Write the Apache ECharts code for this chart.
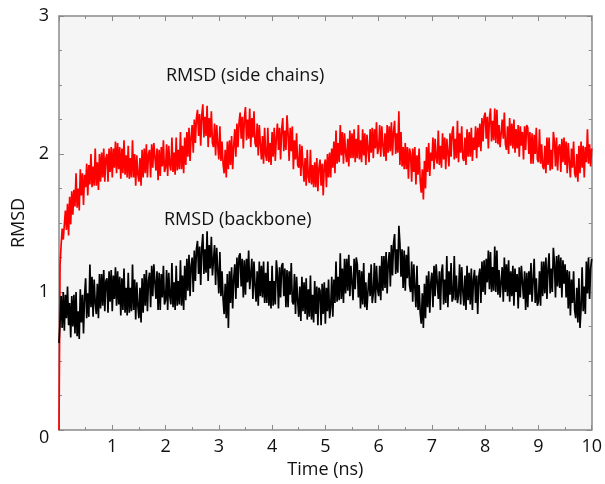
<!DOCTYPE html>
<html>
<head>
<meta charset="utf-8">
<script src="https://cdn.jsdelivr.net/npm/echarts@6/dist/echarts.min.js"></script>
<style>
html,body{margin:0;padding:0;background:#fff;}
#chart{width:605px;height:484px;}
</style>
</head>
<body>
<div id="chart"></div>
<script>
// Sampling step of the trajectory (ns)
const timeStep = 0.02;
const xTicks = [0,1,2,3,4,5,6,7,8,9,10];
const yTicks = [0,1,2,3];

// RMSD (side chains) (one row per ns)
const sideChains = [
0.00,1.20,1.34,1.46,1.38, 1.38,1.59,1.45,1.64,1.41, 1.69,1.49,1.73,1.56,1.74, 1.62,1.86,1.61,1.75,1.59, 1.89,1.70,1.86,1.63,1.85, 1.76,1.93,1.70,1.92,1.78, 2.00,1.76,1.91,1.77,2.04, 1.77,1.94,1.74,2.00,1.80, 2.01,1.83,2.04,1.80,1.97, 2.00,1.80,2.04,1.87,2.05,
1.83,2.04,1.90,2.09,1.86, 2.08,1.89,2.05,1.82,2.04, 1.86,2.10,1.85,1.99,1.83, 2.06,1.82,1.97,1.83,2.10, 1.83,2.00,1.77,1.99,1.85, 1.80,1.97,1.77,2.03,1.83, 2.04,1.86,2.07,1.83,2.00, 2.03,1.83,2.07,1.90,2.08, 2.07,1.88,2.04,1.81,2.03, 1.84,2.05,1.91,2.10,1.87,
1.90,2.07,1.84,2.06,1.92, 1.88,2.12,1.87,2.01,1.85, 2.12,1.88,2.03,1.89,2.16, 1.89,2.06,1.86,2.12,1.92, 2.16,1.98,2.19,1.95,2.12, 2.21,2.01,2.25,2.08,2.26, 2.32,2.13,2.29,2.06,2.28, 2.36,2.12,2.27,2.13,2.35, 2.05,2.26,2.12,2.31,2.08, 2.05,2.22,1.99,2.21,2.07,
1.96,2.20,1.95,2.09,1.93, 1.86,2.03,1.83,2.09,1.89, 2.10,1.92,2.13,1.89,2.06, 2.18,1.98,2.22,2.05,2.23, 2.30,2.11,2.27,2.04,2.26, 2.34,2.10,2.25,2.11,2.33, 2.05,2.26,2.12,2.31,2.08, 2.05,2.22,1.99,2.21,2.07, 1.96,2.13,1.93,2.19,1.99, 1.95,2.19,1.94,2.08,1.92,
2.16,1.98,2.19,1.95,2.12, 2.22,2.03,2.19,1.96,2.18, 2.26,2.02,2.17,2.03,2.28, 2.15,1.95,2.19,2.02,2.20, 1.89,2.10,1.96,2.15,1.92, 1.90,2.07,1.84,2.06,1.92, 1.80,1.97,1.77,2.03,1.83, 1.79,2.03,1.78,1.92,1.76, 1.94,1.76,1.97,1.73,1.90, 1.96,1.77,1.93,1.70,1.92,
1.96,1.76,2.00,1.83,2.01, 1.83,2.04,1.90,2.09,1.86, 2.17,1.93,2.08,1.94,2.21, 1.99,2.16,1.93,2.15,2.01, 1.94,2.11,1.91,2.17,1.97, 2.15,1.97,2.18,1.94,2.11, 1.97,2.21,1.96,2.10,1.94, 2.18,1.99,2.15,1.92,2.14, 2.14,1.94,2.18,2.01,2.19, 1.97,2.18,2.04,2.23,2.00,
2.04,2.21,1.98,2.20,2.06, 1.98,2.15,1.95,2.21,2.01, 2.20,2.02,2.23,1.99,2.16, 2.24,2.00,2.15,2.01,2.31, 1.92,2.16,1.91,2.05,1.89, 2.08,1.89,2.05,1.82,2.04, 2.00,1.80,2.04,1.87,2.05, 1.78,1.99,1.85,2.04,1.81, 1.72,1.89,1.67,1.95,1.75, 2.05,1.87,2.08,1.84,2.01,
1.95,2.12,1.89,2.11,1.97, 1.93,2.17,1.92,2.06,1.90, 2.15,1.96,2.12,1.89,2.11, 2.11,1.91,2.15,1.98,2.16, 2.20,1.96,2.11,1.97,2.24, 1.94,2.15,2.01,2.20,1.97, 1.95,2.12,1.92,2.18,1.98, 2.16,1.98,2.19,1.95,2.12, 2.03,2.20,1.97,2.19,2.05, 2.22,2.02,2.26,2.09,2.27,
2.30,2.11,2.27,2.04,2.26, 2.33,2.09,2.24,2.10,2.33, 2.08,2.32,2.07,2.21,2.05, 2.04,2.25,2.11,2.30,2.07, 2.03,2.20,2.00,2.26,2.06, 2.22,2.04,2.25,2.01,2.18, 2.04,2.21,1.98,2.20,2.06, 2.16,1.96,2.20,2.03,2.21, 2.19,2.00,2.16,1.93,2.15, 1.93,2.14,2.00,2.19,1.96,
1.94,2.18,1.93,2.07,1.91, 1.89,2.06,1.86,2.12,1.92, 2.12,1.88,2.03,1.89,2.16, 2.09,1.91,2.12,1.88,2.05, 2.07,1.87,2.11,1.94,2.12, 1.92,2.09,1.86,2.08,1.94, 1.83,2.04,1.90,2.09,1.86, 1.83,2.00,1.80,2.06,1.86, 2.09,1.90,2.06,1.83,2.05, 1.94,2.18,1.93,2.07,1.91,
2.04
];

// RMSD (backbone), values (one row per ns)
const backbone = [
0.63,0.78,0.97,0.74,1.00, 0.72,0.98,0.81,1.04,0.76, 0.92,0.67,0.97,0.75,0.98, 0.70,1.00,0.68,0.86,0.66, 1.02,0.78,0.98,0.70,0.97, 1.10,0.81,0.99,0.82,1.20, 0.89,1.11,0.82,1.09,0.92, 0.84,1.06,0.81,1.13,0.88, 1.13,0.90,1.16,0.86,1.08, 1.10,0.85,1.15,0.93,1.16,
0.86,1.12,0.95,1.18,0.90, 1.15,0.91,1.11,0.83,1.10, 0.87,1.17,0.85,1.03,0.83, 1.14,0.85,1.03,0.86,1.20, 0.87,1.09,0.80,1.07,0.90, 0.81,1.03,0.78,1.10,0.85, 1.13,0.90,1.16,0.86,1.08, 1.14,0.89,1.19,0.97,1.20, 1.19,0.95,1.15,0.87,1.14, 0.87,1.13,0.96,1.19,0.91,
0.94,1.16,0.87,1.14,0.97, 0.91,1.21,0.89,1.07,0.87, 1.19,0.90,1.08,0.91,1.23, 0.90,1.12,0.87,1.19,0.94, 1.24,1.01,1.27,0.97,1.19, 1.25,1.00,1.30,1.08,1.31, 1.37,1.13,1.33,1.05,1.32, 1.42,1.13,1.31,1.14,1.44, 1.08,1.34,1.17,1.40,1.12, 1.12,1.34,1.05,1.32,1.15,
0.99,1.29,0.97,1.15,0.95, 0.84,1.06,0.81,1.13,0.74, 1.15,0.92,1.18,0.88,1.10, 1.20,0.95,1.25,1.03,1.26, 1.28,1.04,1.24,0.96,1.23, 0.98,1.24,1.07,1.30,1.02, 1.02,1.24,0.95,1.22,1.05, 0.93,1.15,0.90,1.22,0.97, 1.19,0.96,1.22,0.92,1.14, 0.92,1.22,0.90,1.08,0.88,
1.19,0.90,1.08,0.91,1.23, 1.13,0.88,1.18,0.96,1.19, 1.21,0.97,1.17,0.89,1.16, 0.89,1.15,0.98,1.21,0.93, 0.91,1.13,0.84,1.11,0.94, 0.82,1.04,0.79,1.11,0.86, 1.07,0.84,1.10,0.80,1.02, 0.82,1.12,0.80,0.98,0.78, 1.08,0.84,1.04,0.76,1.03, 1.01,0.76,1.06,0.84,1.07,
0.77,1.03,0.86,1.09,0.81, 0.89,1.11,0.82,1.09,0.92, 1.22,0.93,1.11,0.94,1.28, 0.95,1.17,0.92,1.24,0.99, 1.24,1.01,1.27,0.97,1.19, 1.19,0.94,1.24,1.02,1.25, 1.20,0.96,1.16,0.88,1.15, 0.91,1.21,0.89,1.07,0.87, 0.88,1.14,0.97,1.20,0.92, 0.99,1.21,0.92,1.19,1.02,
0.97,1.19,0.94,1.26,1.01, 1.26,1.03,1.29,0.99,1.21, 1.29,1.04,1.34,1.12,1.35, 1.42,1.13,1.31,1.14,1.48, 1.35,1.11,1.31,1.03,1.30, 1.01,1.27,1.10,1.33,1.05, 1.00,1.22,0.93,1.20,1.03, 0.89,1.19,0.87,1.05,0.85, 0.77,0.99,0.74,1.06,0.81, 1.12,0.89,1.15,0.85,1.07,
1.14,0.89,1.19,0.97,1.20, 1.19,0.95,1.15,0.87,1.14, 1.20,0.91,1.09,0.92,1.26, 0.89,1.15,0.98,1.21,0.93, 0.96,1.26,0.94,1.12,0.92, 0.98,1.20,0.91,1.18,1.01, 0.90,1.12,0.87,1.19,0.94, 1.14,0.91,1.17,0.87,1.09, 1.16,0.92,1.12,0.84,1.11, 1.17,0.92,1.22,1.00,1.23,
0.98,1.24,1.07,1.30,1.02, 1.29,1.00,1.18,1.01,1.33, 1.00,1.30,0.98,1.16,0.96, 0.96,1.18,0.93,1.25,1.00, 1.20,0.97,1.23,0.93,1.15, 0.97,1.19,0.90,1.17,1.00, 1.13,0.88,1.18,0.96,1.19, 1.19,0.95,1.15,0.87,1.14, 0.89,1.15,0.98,1.21,0.93, 0.94,1.24,0.92,1.10,0.90,
0.93,1.15,0.90,1.22,0.97, 1.22,0.99,1.25,0.95,1.17, 1.28,0.99,1.17,1.00,1.32, 1.21,0.96,1.26,1.04,1.27, 1.03,1.25,0.96,1.23,1.06, 1.20,0.96,1.16,0.88,1.15, 0.83,1.09,0.92,1.15,0.87, 0.81,1.03,0.78,1.10,0.74, 0.88,1.18,0.86,1.04,0.84, 1.22,0.99,1.25,0.95,1.17,
1.24
];

const seriesNames = ['RMSD (side chains)', 'RMSD (backbone)'];
const xTitle = 'Time (ns)';
const yTitle = 'RMSD';

function pairs(vals){ return vals.map((v,i)=>[+(i*timeStep).toFixed(2), v]); }

const FONT = 'Open Sans';
const axisGray = '#8a8a8a';
const chart = echarts.init(document.getElementById('chart'), null, {renderer:'canvas'});

const baseX = {
  type:'value', min:xTicks[0], max:xTicks[xTicks.length-1], interval:1,
  axisLine:{show:true, onZero:false, lineStyle:{color:axisGray, width:1.5}},
  axisTick:{show:true, inside:true, length:5, lineStyle:{color:axisGray}},
  minorTick:{show:true, splitNumber:2, length:3, lineStyle:{color:axisGray}},
  splitLine:{show:false}
};
const baseY = {
  type:'value', min:yTicks[0], max:yTicks[yTicks.length-1], interval:1,
  axisLine:{show:true, onZero:false, lineStyle:{color:axisGray, width:1.5}},
  axisTick:{show:true, inside:true, length:5, lineStyle:{color:axisGray}},
  minorTick:{show:true, splitNumber:4, length:3, lineStyle:{color:axisGray}},
  splitLine:{show:false}
};

chart.setOption({
  animation:false,
  backgroundColor:'#ffffff',
  grid:{left:59, right:12, top:16, bottom:54, show:true, backgroundColor:'#f5f5f5', borderWidth:0},
  xAxis:[
    Object.assign({}, baseX, {
      position:'bottom',
      name:xTitle, nameLocation:'middle', nameGap:27,
      nameTextStyle:{fontFamily:FONT, fontSize:18, color:'#111'},
      axisLabel:{show:true, margin:8, fontFamily:FONT, fontSize:18, color:'#111',
        formatter:v=> v===0 ? '' : String(v)}
    }),
    Object.assign({}, baseX, {position:'top', axisLabel:{show:false}})
  ],
  yAxis:[
    Object.assign({}, baseY, {
      position:'left',
      name:yTitle, nameLocation:'middle', nameGap:30, nameRotate:90,
      nameTextStyle:{fontFamily:FONT, fontSize:18, color:'#111'},
      axisLabel:{show:true, margin:10, fontFamily:FONT, fontSize:18, color:'#111',
        formatter:v=> v===0 ? '' : String(v)}
    }),
    Object.assign({}, baseY, {position:'right', axisLabel:{show:false}})
  ],
  graphic:[
    {type:'text', left:39, top:429, style:{text:String(xTicks[0]), fontFamily:FONT, fontSize:18, fill:'#111'}},
    {type:'text', left:166, top:67, style:{text:seriesNames[0], fontFamily:FONT, fontSize:18, fill:'#111'}},
    {type:'text', left:164, top:211, style:{text:seriesNames[1], fontFamily:FONT, fontSize:18, fill:'#111'}}
  ],
  series:[
    {name:seriesNames[0], type:'line', data:pairs(sideChains), showSymbol:false, symbol:'none', sampling:null,
      lineStyle:{color:'#ff0000', width:1.7}, clip:true, z:3},
    {name:seriesNames[1], type:'line', data:pairs(backbone), showSymbol:false, symbol:'none', sampling:null,
      lineStyle:{color:'#000000', width:1.7}, clip:true, z:3}
  ]
});
</script>
</body>
</html>
